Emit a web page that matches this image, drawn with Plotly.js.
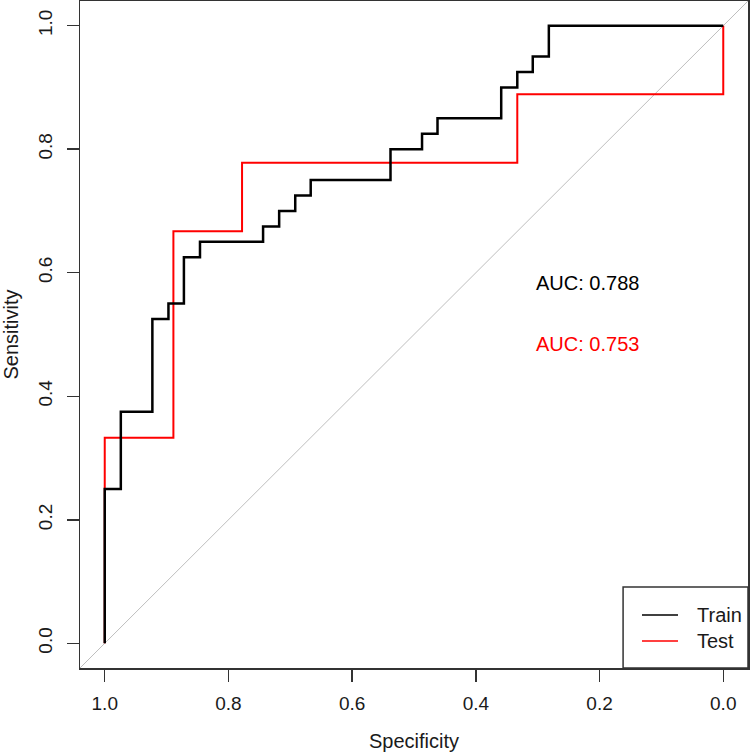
<!DOCTYPE html>
<html>
<head>
<meta charset="utf-8">
<script src="https://cdn.plot.ly/plotly-3.0.1.min.js"></script>
<style>html,body{margin:0;padding:0;background:#fff;}#chart{width:750px;height:753px;}</style>
</head>
<body>
<div id="chart"></div>
<script>
// Train ROC step points (specificity, sensitivity)
const trainSpec = [1, 1, 0.974, 0.923, 0.897, 0.872, 0.846, 0.744, 0.718, 0.692, 0.667, 0.538, 0.487, 0.462, 0.359, 0.333, 0.308, 0.282, 0];
const trainSens = [0, 0.25, 0.375, 0.525, 0.55, 0.625, 0.65, 0.675, 0.70, 0.725, 0.75, 0.80, 0.825, 0.85, 0.90, 0.925, 0.95, 1.0, 1.0];
// Test ROC step points
const testSpec = [1, 1, 0.889, 0.778, 0.333, 0, 0];
const testSens = [0, 0.333, 0.667, 0.778, 0.889, 0.889, 1.0];
const seriesNames = ["Train", "Test"];
const seriesColors = ["#000000", "#ff0000"];
const aucLabels = ["AUC: 0.788", "AUC: 0.753"];
const xTicks = [1.0, 0.8, 0.6, 0.4, 0.2, 0.0];
const yTicks = [0.0, 0.2, 0.4, 0.6, 0.8, 1.0];

const FONT = "Liberation Sans, Arial, sans-serif";
const AX = "#333333";
const TXT = "#1a1a1a";

const traces = [
  {x: testSpec, y: testSens, mode: "lines", line: {shape: "hv", color: seriesColors[1], width: 2}, name: seriesNames[1], showlegend: false},
  {x: trainSpec, y: trainSens, mode: "lines", line: {shape: "hv", color: seriesColors[0], width: 2.5}, name: seriesNames[0], showlegend: false}
];

const axisCommon = {
  showgrid: false, zeroline: false, showline: true, mirror: true,
  linecolor: AX, linewidth: 1.5, ticks: "outside", ticklen: 12, tickwidth: 1.5, tickcolor: AX,
  tickfont: {family: FONT, size: 19, color: TXT}, tickformat: ".1f"
};

// manual legend (paper coords) to match the R-style box
const legBox = {x0: 0.813, x1: 1, y0: 0, y1: 0.1213};
const legRows = [0.0793, 0.0404];
const shapes = [
  {type: "line", xref: "x", yref: "y", x0: 1.04, y0: -0.04, x1: -0.04, y1: 1.04,
   line: {color: "#bebebe", width: 1}, layer: "below"},
  {type: "rect", xref: "paper", yref: "paper", x0: legBox.x0, x1: legBox.x1, y0: legBox.y0, y1: legBox.y1,
   line: {color: AX, width: 1.5}, fillcolor: "#ffffff", layer: "above"}
];
const annotations = [
  {xref: "x", yref: "y", x: 0.22, y: 0.584, text: aucLabels[0], showarrow: false, font: {family: FONT, size: 20, color: "#000"}},
  {xref: "x", yref: "y", x: 0.22, y: 0.485, text: aucLabels[1], showarrow: false, font: {family: FONT, size: 20, color: "#ff0000"}}
];
seriesNames.forEach((nm, i) => {
  shapes.push({type: "line", xref: "paper", yref: "paper", x0: 0.8413, x1: 0.8952, y0: legRows[i], y1: legRows[i],
               line: {color: seriesColors[i], width: 1.5}, layer: "above"});
  annotations.push({xref: "paper", yref: "paper", x: 0.9207, y: legRows[i], xanchor: "left", yanchor: "middle",
                    text: nm, showarrow: false, font: {family: FONT, size: 20, color: TXT}});
});

const layout = {
  width: 750, height: 753,
  margin: {l: 80, r: 2, t: 1, b: 85},
  paper_bgcolor: "#fff", plot_bgcolor: "#fff",
  font: {family: FONT, size: 19, color: TXT},
  showlegend: false,
  xaxis: Object.assign({}, axisCommon, {
    range: [1.04, -0.04], tickvals: xTicks, ticklabelstandoff: 6,
    title: {text: "Specificity", font: {family: FONT, size: 20, color: TXT}, standoff: 20}
  }),
  yaxis: Object.assign({}, axisCommon, {
    range: [-0.04, 1.04], tickvals: yTicks, tickangle: -90, ticklabelstandoff: 7,
    title: {text: "Sensitivity", font: {family: FONT, size: 20, color: TXT}, standoff: 12}
  }),
  shapes: shapes,
  annotations: annotations
};

Plotly.newPlot("chart", traces, layout, {staticPlot: true, displayModeBar: false});
</script>
</body>
</html>
